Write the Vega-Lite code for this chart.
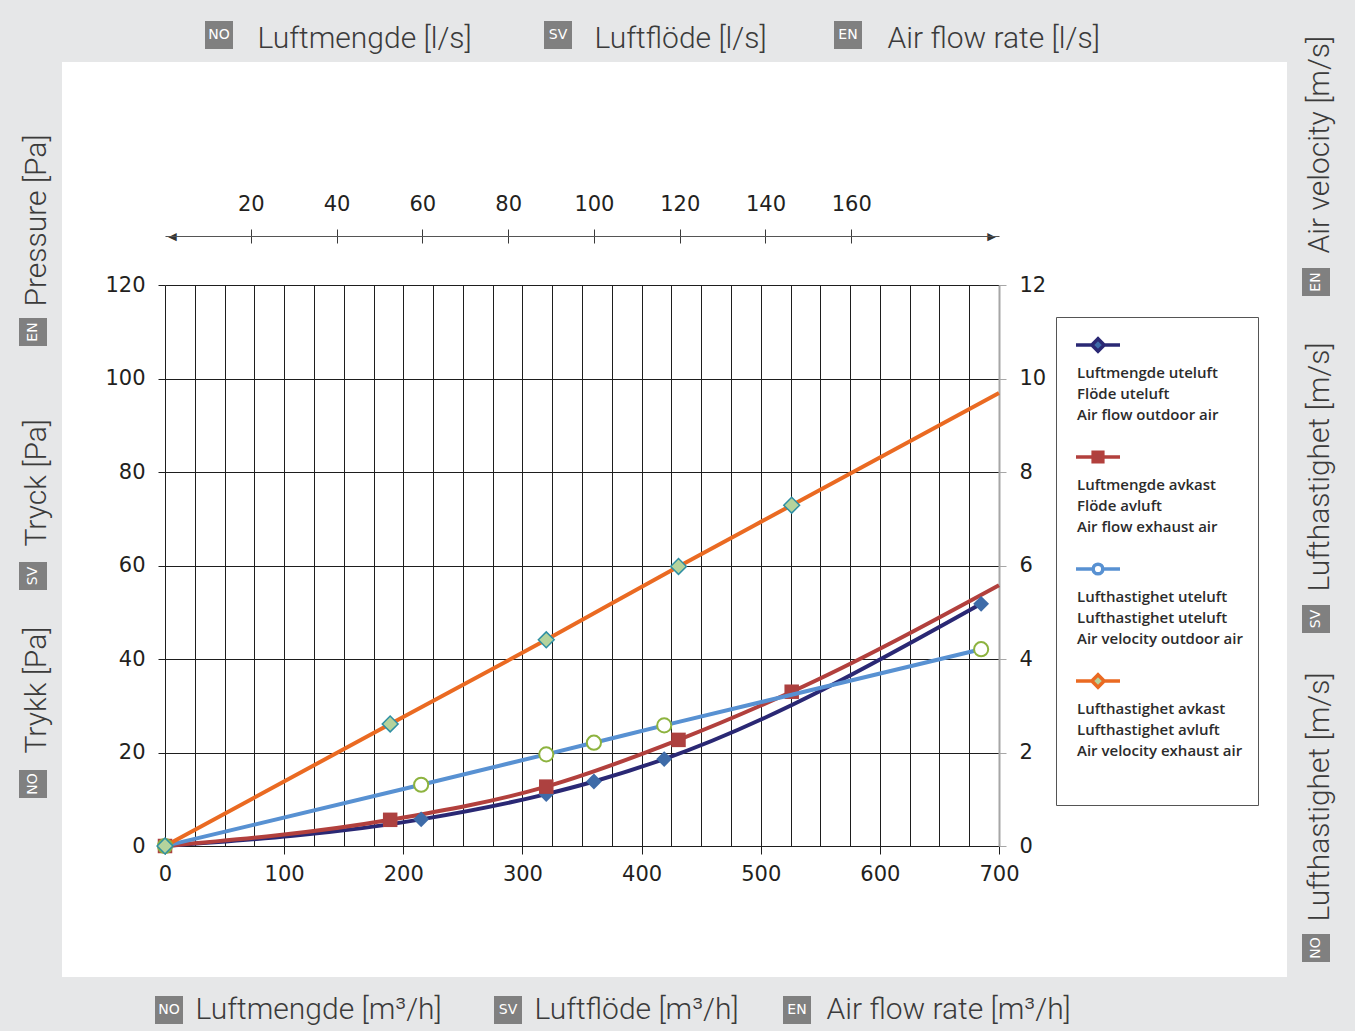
{
  "$schema": "https://vega.github.io/schema/vega-lite/v6.json",
  "width": 1225,
  "height": 915,
  "autosize": {"type": "none"},
  "padding": {"left": 62, "top": 62, "right": 68, "bottom": 54},
  "background": "#e6e7e8",
  "config": {
    "view": {"fill": "white", "stroke": null},
    "axis": {
      "labelFlush": false,
      "labelOverlap": false,
      "labelFont": "DejaVu Sans",
      "labelFontSize": 21,
      "labelColor": "#231f20",
      "titleFont": "Roboto",
      "titleFontSize": 30,
      "titleFontWeight": 300,
      "titleColor": "#3b3b3b"
    },
    "legend": {
      "orient": "none",
      "padding": 0,
      "symbolType": "square",
      "symbolSize": 784,
      "symbolStrokeWidth": 0,
      "symbolOpacity": 1,
      "labelColor": "white",
      "labelFont": "DejaVu Sans",
      "labelFontSize": 14,
      "labelAlign": "center",
      "labelBaseline": "middle",
      "labelOffset": -14
    }
  },
  "datasets": {
    "pressure": [
      {"series": "Luftmengde uteluft", "flow": 0, "pressure": 0},
      {"series": "Luftmengde uteluft", "flow": 215, "pressure": 5.7},
      {"series": "Luftmengde uteluft", "flow": 320, "pressure": 11.1},
      {"series": "Luftmengde uteluft", "flow": 360, "pressure": 13.8},
      {"series": "Luftmengde uteluft", "flow": 419, "pressure": 18.6},
      {"series": "Luftmengde uteluft", "flow": 685, "pressure": 51.8},
      {"series": "Luftmengde avkast", "flow": 0, "pressure": 0},
      {"series": "Luftmengde avkast", "flow": 189, "pressure": 5.6},
      {"series": "Luftmengde avkast", "flow": 320, "pressure": 12.7},
      {"series": "Luftmengde avkast", "flow": 431, "pressure": 22.7},
      {"series": "Luftmengde avkast", "flow": 526, "pressure": 33.0},
      {"series": "Luftmengde avkast", "flow": 700, "pressure": 55.8}
    ],
    "velocity": [
      {"series": "Lufthastighet uteluft", "flow": 0, "velocity": 0},
      {"series": "Lufthastighet uteluft", "flow": 215, "velocity": 1.31},
      {"series": "Lufthastighet uteluft", "flow": 320, "velocity": 1.96},
      {"series": "Lufthastighet uteluft", "flow": 360, "velocity": 2.21},
      {"series": "Lufthastighet uteluft", "flow": 419, "velocity": 2.58},
      {"series": "Lufthastighet uteluft", "flow": 685, "velocity": 4.21},
      {"series": "Lufthastighet avkast", "flow": 0, "velocity": 0},
      {"series": "Lufthastighet avkast", "flow": 189, "velocity": 2.61},
      {"series": "Lufthastighet avkast", "flow": 320, "velocity": 4.41},
      {"series": "Lufthastighet avkast", "flow": 431, "velocity": 5.98},
      {"series": "Lufthastighet avkast", "flow": 526, "velocity": 7.29},
      {"series": "Lufthastighet avkast", "flow": 700, "velocity": 9.69}
    ],
    "ls_range": [{"ls": 0}, {"ls": 194.44}]
  },
  "layer": [
    {
      "data": {"name": "pressure"},
      "mark": {"type": "point", "opacity": 0},
      "encoding": {
        "x": {
          "field": "flow",
          "type": "quantitative",
          "scale": {"domain": [0, 700], "range": [103, 937], "nice": false, "zero": false},
          "axis": {
            "orient": "bottom",
            "offset": -131,
            "values": [25, 50, 75, 100, 125, 150, 175, 200, 225, 250, 275, 300, 325, 350, 375, 400, 425, 450, 475, 500, 525, 550, 575, 600, 625, 650, 675],
            "grid": false,
            "domain": false,
            "labels": false,
            "tickSize": -561,
            "tickColor": "#1e1e1e",
            "tickWidth": 1,
            "title": null
          }
        }
      }
    },
    {
      "layer": [
        {
          "data": {"name": "pressure"},
          "encoding": {
            "x": {
              "field": "flow",
              "type": "quantitative",
              "scale": {"domain": [0, 700], "range": [103, 937], "nice": false, "zero": false},
              "axis": {
                "orient": "bottom",
                "offset": -131,
                "values": [0, 100, 200, 300, 400, 500, 600, 700],
                "grid": false,
                "domain": true,
                "domainColor": "#1e1e1e",
                "domainWidth": 1,
                "tickSize": 8,
                "tickColor": "#1e1e1e",
                "labelPadding": 9,
                "title": null
              }
            },
            "y": {
              "field": "pressure",
              "type": "quantitative",
              "scale": {"domain": [0, 120], "range": [784, 223], "nice": false, "zero": false},
              "axis": {
                "orient": "left",
                "offset": -103,
                "values": [0, 20, 40, 60, 80, 100, 120],
                "grid": true,
                "gridColor": "#1e1e1e",
                "gridWidth": 1,
                "domain": true,
                "domainColor": "#1e1e1e",
                "tickSize": 7,
                "tickColor": "#1e1e1e",
                "labelPadding": 13,
                "title": null
              }
            }
          },
          "layer": [
            {
              "mark": {"type": "line", "strokeWidth": 4, "interpolate": "monotone"},
              "encoding": {
                "color": {
                  "field": "series",
                  "type": "nominal",
                  "scale": {
                    "domain": ["Luftmengde uteluft", "Luftmengde avkast", "Lufthastighet uteluft", "Lufthastighet avkast"],
                    "range": ["#2a2874", "#b2403d", "#5891d2", "#ea6a22"]
                  },
                  "legend": {
                    "orient": "none",
                    "legendX": 994,
                    "legendY": 255,
                    "title": null,
                    "padding": 4,
                    "strokeColor": "#555555",
                    "fillColor": "white",
                    "symbolSize": 1936,
                    "symbolStrokeWidth": 3.5,
                    "symbolOffset": 14,
                    "symbolOpacity": 1,
                    "labelFont": "Open Sans",
                    "labelFontSize": 15,
                    "labelFontWeight": 600,
                    "labelColor": "#2b2b2b",
                    "labelAlign": "left",
                    "labelBaseline": "top",
                    "labelOffset": -45,
                    "labelLimit": 400,
                    "rowPadding": 10,
                    "labelExpr": "datum.label === 'Luftmengde uteluft' ? ['', 'Luftmengde uteluft', 'Flöde uteluft', 'Air flow outdoor air'] : datum.label === 'Luftmengde avkast' ? ['', 'Luftmengde avkast', 'Flöde avluft', 'Air flow exhaust air'] : datum.label === 'Lufthastighet uteluft' ? ['', 'Lufthastighet uteluft', 'Lufthastighet uteluft', 'Air velocity outdoor air\u2800'] : ['', 'Lufthastighet avkast', 'Lufthastighet avluft', 'Air velocity exhaust air', '', '']",
                    "encode": {
                      "symbols": {
                        "update": {
                          "shape": {"signal": "datum.value === 'Luftmengde uteluft' ? 'M-1,0H-0.28M0.28,0H1M0,-0.28L0.28,0L0,0.28L-0.28,0Z' : datum.value === 'Luftmengde avkast' ? 'M-1,0H-0.22M0.22,0H1M-0.22,-0.22H0.22V0.22H-0.22Z' : datum.value === 'Lufthastighet uteluft' ? 'M-1,0H-0.22M0.22,0H1M-0.22,0A0.22,0.22 0 1,0 0.22,0A0.22,0.22 0 1,0 -0.22,0Z' : 'M-1,0H-0.28M0.28,0H1M0,-0.28L0.28,0L0,0.28L-0.28,0Z'"},
                          "fill": {"signal": "datum.value === 'Luftmengde uteluft' ? '#3e6ba8' : datum.value === 'Luftmengde avkast' ? '#ad4140' : datum.value === 'Lufthastighet uteluft' ? 'white' : '#b5d39c'"}
                        }
                      },
                      "labels": {"update": {"lineHeight": {"value": 21}}}
                    }
                  }
                }
              }
            },
            {
              "transform": [{"filter": "datum.series === 'Luftmengde uteluft' && datum.flow < 695"}],
              "mark": {"type": "point", "shape": "diamond", "filled": true, "size": 250, "color": "#3e6ba8", "opacity": 1}
            },
            {
              "transform": [{"filter": "datum.series === 'Luftmengde avkast' && datum.flow < 695"}],
              "mark": {"type": "point", "shape": "square", "filled": true, "size": 210, "color": "#ad4140", "opacity": 1}
            }
          ]
        },
        {
          "data": {"name": "velocity"},
          "encoding": {
            "x": {"field": "flow", "type": "quantitative"},
            "y": {
              "field": "velocity",
              "type": "quantitative",
              "scale": {"domain": [0, 12], "range": [784, 223], "nice": false, "zero": false},
              "axis": {
                "orient": "right",
                "offset": -288,
                "values": [0, 2, 4, 6, 8, 10, 12],
                "grid": false,
                "domain": true,
                "domainColor": "#a6a6a6",
                "domainWidth": 2,
                "tickSize": 7,
                "tickColor": "#a6a6a6",
                "tickWidth": 1,
                "labelPadding": 13,
                "title": null
              }
            }
          },
          "layer": [
            {
              "mark": {"type": "line", "strokeWidth": 4, "interpolate": "monotone"},
              "encoding": {
                "color": {
                  "field": "series",
                  "type": "nominal",
                  "scale": {
                    "domain": ["Luftmengde uteluft", "Luftmengde avkast", "Lufthastighet uteluft", "Lufthastighet avkast"],
                    "range": ["#2a2874", "#b2403d", "#5891d2", "#ea6a22"]
                  }
                }
              }
            },
            {
              "transform": [{"filter": "datum.series === 'Lufthastighet uteluft' && datum.flow < 695"}],
              "mark": {"type": "point", "shape": "circle", "filled": true, "fill": "white", "stroke": "#8db33f", "strokeWidth": 2, "size": 200, "opacity": 1}
            },
            {
              "transform": [{"filter": "datum.series === 'Lufthastighet avkast' && datum.flow < 695"}],
              "mark": {"type": "point", "shape": "diamond", "filled": true, "fill": "#b5d39c", "stroke": "#2e8fa3", "strokeWidth": 1.5, "size": 250, "opacity": 1}
            }
          ]
        }
      ],
      "resolve": {"scale": {"y": "independent"}}
    },
    {
      "data": {"name": "ls_range"},
      "mark": {"type": "point", "opacity": 0},
      "encoding": {
        "x": {
          "field": "ls",
          "type": "quantitative",
          "scale": {"domain": [0, 194.44], "range": [103, 937], "nice": false, "zero": false},
          "axis": {
            "orient": "top",
            "offset": -181,
            "values": [20, 40, 60, 80, 100, 120, 140, 160],
            "grid": false,
            "domain": false,
            "tickSize": 14,
            "tickColor": "#3a3a3a",
            "tickWidth": 1,
            "labelPadding": 15,
            "title": null
          }
        }
      }
    },
    {
      "data": {"name": "ls_range"},
      "mark": {"type": "point", "opacity": 0},
      "encoding": {
        "x": {
          "field": "ls",
          "type": "quantitative",
          "scale": {"domain": [0, 194.44], "range": [103, 937], "nice": false, "zero": false},
          "axis": {
            "orient": "top",
            "offset": -174,
            "values": [1.6, 192.6],
            "grid": false,
            "domain": true,
            "domainColor": "#555555",
            "domainWidth": 1,
            "ticks": false,
            "tickSize": 0,
            "labelExpr": "datum.value < 50 ? '◀' : '▶'",
            "labelBaseline": "middle",
            "labelPadding": 0,
            "labelFontSize": 11,
            "labelColor": "#333333",
            "title": null
          }
        }
      }
    },
    {
      "data": {"values": [{"lang": "NO"}]},
      "mark": {"type": "point", "filled": true, "opacity": 0},
      "encoding": {
        "x": {"field": "lang", "type": "nominal", "axis": {"orient": "top", "domain": false, "ticks": false, "labels": false, "grid": false, "title": "Luftmengde [l/s]", "titleX": 195, "titleY": -15, "titleAlign": "left", "titleBaseline": "alphabetic", "titleAngle": 0}},
        "color": {"field": "lang", "type": "nominal", "scale": {"range": ["#808080"]}, "legend": {"title": null, "legendX": 143, "legendY": -41}}
      }
    },
    {
      "data": {"values": [{"lang": "SV"}]},
      "mark": {"type": "point", "filled": true, "opacity": 0},
      "encoding": {
        "x": {"field": "lang", "type": "nominal", "axis": {"orient": "top", "domain": false, "ticks": false, "labels": false, "grid": false, "title": "Luftflöde [l/s]", "titleX": 532, "titleY": -15, "titleAlign": "left", "titleBaseline": "alphabetic", "titleAngle": 0}},
        "color": {"field": "lang", "type": "nominal", "scale": {"range": ["#808080"]}, "legend": {"title": null, "legendX": 482, "legendY": -41}}
      }
    },
    {
      "data": {"values": [{"lang": "EN"}]},
      "mark": {"type": "point", "filled": true, "opacity": 0},
      "encoding": {
        "x": {"field": "lang", "type": "nominal", "axis": {"orient": "top", "domain": false, "ticks": false, "labels": false, "grid": false, "title": "Air flow rate [l/s]", "titleX": 825, "titleY": -15, "titleAlign": "left", "titleBaseline": "alphabetic", "titleAngle": 0}},
        "color": {"field": "lang", "type": "nominal", "scale": {"range": ["#808080"]}, "legend": {"title": null, "legendX": 772, "legendY": -41}}
      }
    },
    {
      "data": {"values": [{"lang": "NO"}]},
      "mark": {"type": "point", "filled": true, "opacity": 0},
      "encoding": {
        "x": {"field": "lang", "type": "nominal", "axis": {"orient": "top", "domain": false, "ticks": false, "labels": false, "grid": false, "title": "Luftmengde [m³/h]", "titleX": 133, "titleY": 956, "titleAlign": "left", "titleBaseline": "alphabetic", "titleAngle": 0}},
        "color": {"field": "lang", "type": "nominal", "scale": {"range": ["#808080"]}, "legend": {"title": null, "legendX": 93, "legendY": 934}}
      }
    },
    {
      "data": {"values": [{"lang": "SV"}]},
      "mark": {"type": "point", "filled": true, "opacity": 0},
      "encoding": {
        "x": {"field": "lang", "type": "nominal", "axis": {"orient": "top", "domain": false, "ticks": false, "labels": false, "grid": false, "title": "Luftflöde [m³/h]", "titleX": 472, "titleY": 956, "titleAlign": "left", "titleBaseline": "alphabetic", "titleAngle": 0}},
        "color": {"field": "lang", "type": "nominal", "scale": {"range": ["#808080"]}, "legend": {"title": null, "legendX": 432, "legendY": 934}}
      }
    },
    {
      "data": {"values": [{"lang": "EN"}]},
      "mark": {"type": "point", "filled": true, "opacity": 0},
      "encoding": {
        "x": {"field": "lang", "type": "nominal", "axis": {"orient": "top", "domain": false, "ticks": false, "labels": false, "grid": false, "title": "Air flow rate [m³/h]", "titleX": 764, "titleY": 956, "titleAlign": "left", "titleBaseline": "alphabetic", "titleAngle": 0}},
        "color": {"field": "lang", "type": "nominal", "scale": {"range": ["#808080"]}, "legend": {"title": null, "legendX": 721, "legendY": 934}}
      }
    },
    {
      "data": {"values": [{"lang": "NO"}]},
      "mark": {"type": "point", "filled": true, "opacity": 0},
      "encoding": {
        "x": {"field": "lang", "type": "nominal", "axis": {"orient": "top", "domain": false, "ticks": false, "labels": false, "grid": false, "title": "Trykk [Pa]", "titleX": -26, "titleY": 691, "titleAlign": "left", "titleBaseline": "middle", "titleAngle": 270}},
        "color": {"field": "lang", "type": "nominal", "scale": {"range": ["#808080"]}, "legend": {"title": null, "legendX": -43, "legendY": 708, "encode": {"labels": {"update": {"angle": {"value": 270}}}}}}
      }
    },
    {
      "data": {"values": [{"lang": "SV"}]},
      "mark": {"type": "point", "filled": true, "opacity": 0},
      "encoding": {
        "x": {"field": "lang", "type": "nominal", "axis": {"orient": "top", "domain": false, "ticks": false, "labels": false, "grid": false, "title": "Tryck [Pa]", "titleX": -26, "titleY": 484, "titleAlign": "left", "titleBaseline": "middle", "titleAngle": 270}},
        "color": {"field": "lang", "type": "nominal", "scale": {"range": ["#808080"]}, "legend": {"title": null, "legendX": -43, "legendY": 500, "encode": {"labels": {"update": {"angle": {"value": 270}}}}}}
      }
    },
    {
      "data": {"values": [{"lang": "EN"}]},
      "mark": {"type": "point", "filled": true, "opacity": 0},
      "encoding": {
        "x": {"field": "lang", "type": "nominal", "axis": {"orient": "top", "domain": false, "ticks": false, "labels": false, "grid": false, "title": "Pressure [Pa]", "titleX": -26, "titleY": 244, "titleAlign": "left", "titleBaseline": "middle", "titleAngle": 270}},
        "color": {"field": "lang", "type": "nominal", "scale": {"range": ["#808080"]}, "legend": {"title": null, "legendX": -43, "legendY": 256, "encode": {"labels": {"update": {"angle": {"value": 270}}}}}}
      }
    },
    {
      "data": {"values": [{"lang": "NO"}]},
      "mark": {"type": "point", "filled": true, "opacity": 0},
      "encoding": {
        "x": {"field": "lang", "type": "nominal", "axis": {"orient": "top", "domain": false, "ticks": false, "labels": false, "grid": false, "title": "Lufthastighet [m/s]", "titleX": 1257, "titleY": 859, "titleAlign": "left", "titleBaseline": "middle", "titleAngle": 270}},
        "color": {"field": "lang", "type": "nominal", "scale": {"range": ["#808080"]}, "legend": {"title": null, "legendX": 1240, "legendY": 872, "encode": {"labels": {"update": {"angle": {"value": 270}}}}}}
      }
    },
    {
      "data": {"values": [{"lang": "SV"}]},
      "mark": {"type": "point", "filled": true, "opacity": 0},
      "encoding": {
        "x": {"field": "lang", "type": "nominal", "axis": {"orient": "top", "domain": false, "ticks": false, "labels": false, "grid": false, "title": "Lufthastighet [m/s]", "titleX": 1257, "titleY": 529, "titleAlign": "left", "titleBaseline": "middle", "titleAngle": 270}},
        "color": {"field": "lang", "type": "nominal", "scale": {"range": ["#808080"]}, "legend": {"title": null, "legendX": 1240, "legendY": 543, "encode": {"labels": {"update": {"angle": {"value": 270}}}}}}
      }
    },
    {
      "data": {"values": [{"lang": "EN"}]},
      "mark": {"type": "point", "filled": true, "opacity": 0},
      "encoding": {
        "x": {"field": "lang", "type": "nominal", "axis": {"orient": "top", "domain": false, "ticks": false, "labels": false, "grid": false, "title": "Air velocity [m/s]", "titleX": 1257, "titleY": 191, "titleAlign": "left", "titleBaseline": "middle", "titleAngle": 270}},
        "color": {"field": "lang", "type": "nominal", "scale": {"range": ["#808080"]}, "legend": {"title": null, "legendX": 1240, "legendY": 206, "encode": {"labels": {"update": {"angle": {"value": 270}}}}}}
      }
    }
  ],
  "resolve": {"scale": {"x": "independent", "color": "independent"}}
}
